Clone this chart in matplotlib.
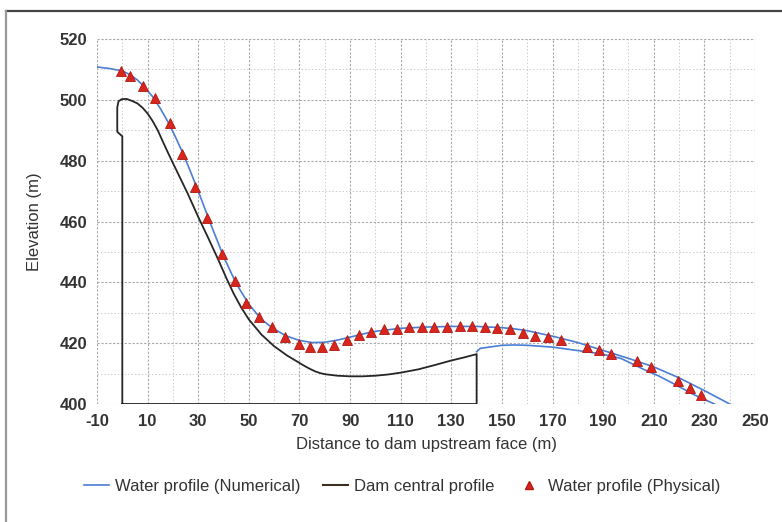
import numpy as np
import matplotlib
matplotlib.use("Agg")
from matplotlib import pyplot as plt
from matplotlib.ticker import MultipleLocator
from matplotlib.lines import Line2D

plt.rcParams['font.family'] = ['Liberation Sans Narrow', 'Liberation Sans', 'DejaVu Sans']
plt.rcParams['axes.unicode_minus'] = False

# water surface, numerical model
num_x = [-10, -5, 0, 3, 6, 9, 12, 15, 18, 21, 24, 27, 30, 35, 40, 45, 50, 55, 60, 65,
         70, 75, 80, 85, 90, 95, 100, 110, 120, 130, 140, 150, 155, 160, 170, 180,
         190, 200, 210, 220, 230, 235, 240]
num_y = [510.8, 510.3, 509.5, 508.3, 506.5, 504.0, 501.0, 497.2, 492.8, 487.8, 482.3,
         476.3, 470.0, 459.0, 448.5, 439.6, 432.8, 427.8, 424.6, 422.3, 420.9, 420.2,
         420.3, 421.0, 422.0, 423.0, 423.9, 424.9, 425.3, 425.5, 425.5, 425.1, 424.7,
         424.1, 422.3, 420.2, 417.6, 415.0, 412.2, 408.6, 404.4, 402.2, 400.0]

# lower nappe of the jet past the flip bucket (numerical)
jet_x = [140, 141.5, 145, 150, 155, 160, 165, 170, 177, 185, 190, 197, 202, 207,
         212, 218, 226, 230, 234]
jet_y = [417.2, 418.3, 418.7, 419.3, 419.4, 419.3, 419.0, 418.7, 417.9, 417.0, 416.3,
         415.0, 413.0, 411.0, 409.2, 406.6, 403.0, 401.5, 400.0]

# dam central profile (closed outline)
dam_x = [0, 0, -2, -2, -1.5, -0.3, 1.7, 4, 6, 8, 10, 12, 14, 16, 18, 20, 22, 26, 30,
         34, 38, 41, 44, 47, 50, 55, 60, 65, 70, 72, 74, 76, 78, 80, 85, 90, 95, 100,
         105, 110, 117, 123, 130, 135, 140, 140, 0]
dam_y = [400, 488, 489.5, 497.5, 499.5, 500.2, 500.3, 499.6, 498.8, 497.4, 495.5,
         493.0, 490.0, 486.3, 482.7, 479.2, 475.8, 468.9, 461.5, 454.5, 447.3, 441.6,
         436.3, 431.7, 427.8, 422.8, 419.0, 416.0, 413.5, 412.5, 411.6, 410.8, 410.2,
         409.8, 409.3, 409.1, 409.1, 409.3, 409.7, 410.3, 411.4, 412.7, 414.3, 415.3,
         416.4, 400, 400]

# water surface, physical model
phy_x = [-0.6, 3.0, 8.3, 12.9, 18.9, 23.6, 28.7, 33.4, 39.3, 44.4, 48.9, 53.9, 59.0,
         64.3, 69.7, 74.2, 78.8, 83.8, 88.7, 93.6, 98.3, 103.4, 108.4, 113.4, 118.3,
         123.3, 128.2, 133.4, 138.3, 143.4, 148.2, 153.2, 158.5, 163.0, 168.4, 173.3,
         183.6, 188.2, 193.2, 203.3, 208.8, 219.5, 224.4, 228.7]
phy_y = [509.5, 507.8, 504.6, 500.7, 492.3, 482.2, 471.3, 461.1, 449.3, 440.4, 433.3,
         428.7, 425.2, 422.1, 419.7, 418.8, 418.6, 419.4, 421.2, 422.8, 423.8, 424.5,
         424.8, 425.3, 425.3, 425.3, 425.3, 425.5, 425.5, 425.3, 425.0, 424.5, 423.4,
         422.3, 421.9, 421.0, 418.8, 417.9, 416.3, 414.0, 412.2, 407.6, 405.3, 403.0]

blue = '#4a7ed4'
red = '#d8251e'
txt = '#333333'

fig = plt.figure(figsize=(7.82, 5.22), dpi=100)
ax = fig.add_axes([97 / 782, 1 - 404 / 522, 658 / 782, 365 / 522])

ax.plot(num_x, num_y, color=blue, lw=1.2, zorder=3)
ax.plot(jet_x, jet_y, color=blue, lw=1.2, zorder=3)
ax.plot(dam_x, dam_y, color='#262626', lw=1.3, zorder=3)
ax.plot(phy_x, phy_y, ls='none', marker='^', ms=7.5, color=red,
        markeredgecolor='#b01810', markeredgewidth=0.6, zorder=4)

ax.set_xlim(-10, 250)
ax.set_ylim(400, 520)
ax.xaxis.set_major_locator(MultipleLocator(20, offset=10))
ax.xaxis.set_minor_locator(MultipleLocator(10))
ax.yaxis.set_major_locator(MultipleLocator(20))
ax.yaxis.set_minor_locator(MultipleLocator(10))
ax.grid(which='major', color='#a8a8a8', ls=(0, (2, 1.5)), lw=0.8)
ax.grid(which='minor', color='#cccccc', ls=(0, (1.5, 2)), lw=0.7)
ax.set_axisbelow(True)
for s in ax.spines.values():
    s.set_visible(False)
ax.tick_params(which='both', length=0, labelsize=12, labelcolor=txt, pad=7)
for lab in ax.get_xticklabels() + ax.get_yticklabels():
    lab.set_fontweight('bold')

ax.set_xlabel('Distance to dam upstream face (m)', fontsize=12, color=txt, labelpad=6)
ax.set_ylabel('Elevation (m)', fontsize=12, color=txt, labelpad=13)

handles = [Line2D([], [], color=blue, lw=1.2),
           Line2D([], [], color='#3a3020', lw=1.5),
           Line2D([], [], ls='none', marker='^', ms=6, color=red, markeredgecolor='#b01810')]
labels = ['Water profile (Numerical)', 'Dam central profile', 'Water profile (Physical)']
fig.legend(handles, labels, loc='center', bbox_to_anchor=(402 / 782, 1 - 486 / 522),
           ncol=3, frameon=False, fontsize=12, handlelength=1.5, handletextpad=0.4,
           columnspacing=1.3, labelcolor=txt)

# outer frame (top and left edges)
fig.add_artist(Line2D([6 / 782, 1], [1 - 11 / 522, 1 - 11 / 522], color='#444444', lw=1.6,
                      transform=fig.transFigure))
fig.add_artist(Line2D([6 / 782, 6 / 782], [0, 1 - 11 / 522], color='#999999', lw=1.6,
                      transform=fig.transFigure))

fig.savefig('out.png', dpi=100)
